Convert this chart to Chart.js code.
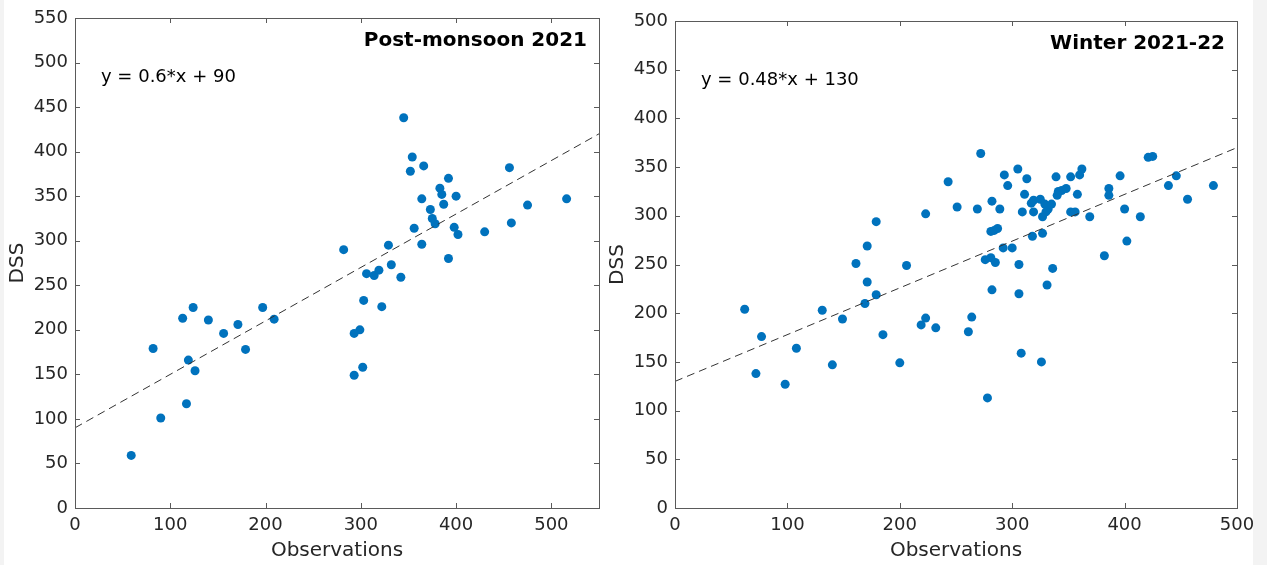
<!DOCTYPE html>
<html>
<head>
<meta charset="utf-8">
<script src="https://cdn.jsdelivr.net/npm/chart.js@4/dist/chart.umd.min.js"></script>
<style>
    body { margin: 0; background: #fff; width: 1267px; height: 565px; overflow: hidden; position: relative; }
    canvas { position: absolute; top: 0; }
    #postChart { left: 0; }
    #winterChart { left: 600px; }
    .strip { position: absolute; top: 0; height: 565px; background: #f3f3f3; }
</style>
</head>
<body>
<canvas id="postChart" width="610" height="565"></canvas>
<canvas id="winterChart" width="667" height="565"></canvas>
<div class="strip" style="left:0;width:4px"></div>
<div class="strip" style="left:1253px;width:14px"></div>

<script>
// Post-monsoon 2021 (observations vs DSS)
const postObs = [59, 82, 90, 113, 124, 140, 119, 126, 117, 156, 171, 179, 197, 209,
    282, 345, 354, 366, 352, 392, 383, 385, 400, 364, 387, 456, 373, 375, 378, 475,
    516, 356, 398, 402, 430, 458, 364, 329, 392, 332, 306, 314, 319, 342, 303, 322,
    299, 293, 302, 293];
const postDss = [59, 179, 101, 213, 225, 211, 166, 154, 117, 196, 206, 178, 225, 212,
    290, 438, 394, 384, 378, 370, 359, 352, 350, 347, 341, 382, 335, 325, 319, 340,
    347, 314, 315, 307, 310, 320, 296, 295, 280, 273, 263, 261, 267, 259, 233, 226,
    200, 196, 158, 149];
const postFit = [0.6, 90];

// Winter 2021-22
const winterObs = [62, 72, 77, 98, 108, 131, 140, 149, 161, 171, 179, 171, 179, 169,
    185, 200, 206, 223, 219, 223, 232, 243, 251, 261, 264, 272, 269, 282, 289, 281,
    284, 287, 292, 300, 276, 281, 285, 306, 282, 306, 308, 326, 331, 336, 293, 296,
    305, 313, 311, 317, 319, 309, 319, 325, 329, 332, 335, 330, 327, 318, 327, 339,
    341, 344, 340, 348, 352, 360, 362, 358, 352, 356, 369, 382, 386, 386, 396, 400,
    402, 414, 421, 425, 439, 446, 456, 479, 278];
const winterDss = [204, 138, 176, 127, 164, 203, 147, 194, 251, 269, 294, 232, 219, 210,
    178, 149, 249, 302, 188, 195, 185, 335, 309, 181, 196, 364, 307, 315, 307, 284,
    285, 287, 267, 267, 255, 257, 252, 250, 224, 220, 159, 150, 229, 246, 342, 331,
    348, 338, 322, 313, 316, 304, 304, 317, 312, 307, 312, 304, 299, 279, 282, 340,
    325, 326, 321, 328, 340, 342, 348, 322, 304, 304, 299, 259, 328, 321, 341, 307,
    274, 299, 360, 361, 331, 341, 317, 331, 113];
const winterFit = [0.48, 130];

// tick values
const postXTicks = [0, 100, 200, 300, 400, 500];
const postYTicks = [0, 50, 100, 150, 200, 250, 300, 350, 400, 450, 500, 550];
const winterXTicks = [0, 100, 200, 300, 400, 500];
const winterYTicks = [0, 50, 100, 150, 200, 250, 300, 350, 400, 450, 500];

const textColor = '#262626';
const fontFamily = "'DejaVu Sans', sans-serif";

// draws the MATLAB style box with inward ticks, the panel title and the fit equation
const framePlugin = {
    id: 'frame',
    afterDraw(chart, args, opts) {
        const { ctx, chartArea: a, scales: { x, y } } = chart;
        ctx.save();
        ctx.strokeStyle = '#5a5a5a';
        ctx.lineWidth = 1;
        ctx.strokeRect(a.left + 0.5, a.top + 0.5, a.right - a.left, a.bottom - a.top);

        ctx.beginPath();
        x.ticks.forEach(t => {
            const px = Math.round(x.getPixelForValue(t.value)) + 0.5;
            ctx.moveTo(px, a.bottom); ctx.lineTo(px, a.bottom - 5);
            ctx.moveTo(px, a.top); ctx.lineTo(px, a.top + 5);
        });
        y.ticks.forEach(t => {
            const py = Math.round(y.getPixelForValue(t.value)) + 0.5;
            ctx.moveTo(a.left, py); ctx.lineTo(a.left + 5, py);
            ctx.moveTo(a.right, py); ctx.lineTo(a.right - 5, py);
        });
        ctx.stroke();

        ctx.fillStyle = '#000';
        ctx.textBaseline = 'middle';
        ctx.font = "bold 20px " + fontFamily;
        ctx.textAlign = 'right';
        ctx.fillText(opts.title, a.right - 12, a.top + 23);

        ctx.font = "18px " + fontFamily;
        ctx.textAlign = 'left';
        ctx.fillText(opts.equation, a.left + 26, a.top + 59);
        ctx.restore();
    }
};

function makeChart(id, obs, dss, fit, xMax, yMax, xTicks, yTicks, title, padRight, padTop) {
    const points = obs.map((v, i) => ({ x: v, y: dss[i] }));
    const fitLine = [{ x: 0, y: fit[1] }, { x: xMax, y: fit[0] * xMax + fit[1] }];
    const eq = 'y = ' + fit[0] + '*x + ' + fit[1];

    return new Chart(document.getElementById(id), {
        type: 'scatter',
        data: {
            datasets: [{
                type: 'line',
                data: fitLine,
                borderColor: '#333',
                borderWidth: 1,
                borderDash: [8, 5],
                pointRadius: 0,
                fill: false,
                order: 0
            }, {
                data: points,
                backgroundColor: '#0072BD',
                borderWidth: 0,
                pointRadius: 4.5,
                order: 1
            }]
        },
        options: {
            responsive: false,
            animation: false,
            layout: { padding: { left: 0, right: padRight, top: padTop, bottom: 0 } },
            plugins: {
                legend: { display: false },
                tooltip: { enabled: false },
                frame: { title: title, equation: eq }
            },
            scales: {
                x: {
                    type: 'linear',
                    min: 0,
                    max: xMax,
                    afterBuildTicks: s => { s.ticks = xTicks.map(v => ({ value: v })); },
                    afterFit: s => { s.height = 57; },
                    grid: { display: false, drawTicks: false },
                    border: { display: false },
                    ticks: { color: textColor, font: { family: fontFamily, size: 18 }, padding: 7, maxRotation: 0 },
                    title: {
                        display: true,
                        text: 'Observations',
                        color: textColor,
                        font: { family: fontFamily, size: 20 },
                        padding: { top: 0, bottom: 2 }
                    }
                },
                y: {
                    type: 'linear',
                    min: 0,
                    max: yMax,
                    afterBuildTicks: s => { s.ticks = yTicks.map(v => ({ value: v })); },
                    afterFit: s => { s.width = 75; },
                    grid: { display: false, drawTicks: false },
                    border: { display: false },
                    ticks: { color: textColor, font: { family: fontFamily, size: 18 }, padding: 7 },
                    title: {
                        display: true,
                        text: 'DSS',
                        color: textColor,
                        font: { family: fontFamily, size: 20 },
                        padding: { top: 6, bottom: 0 }
                    }
                }
            }
        },
        plugins: [framePlugin]
    });
}

makeChart('postChart', postObs, postDss, postFit, 550, 550, postXTicks, postYTicks, 'Post-monsoon 2021', 11, 18);
makeChart('winterChart', winterObs, winterDss, winterFit, 500, 500, winterXTicks, winterYTicks, 'Winter 2021-22', 30, 21);
</script>
</body>
</html>
